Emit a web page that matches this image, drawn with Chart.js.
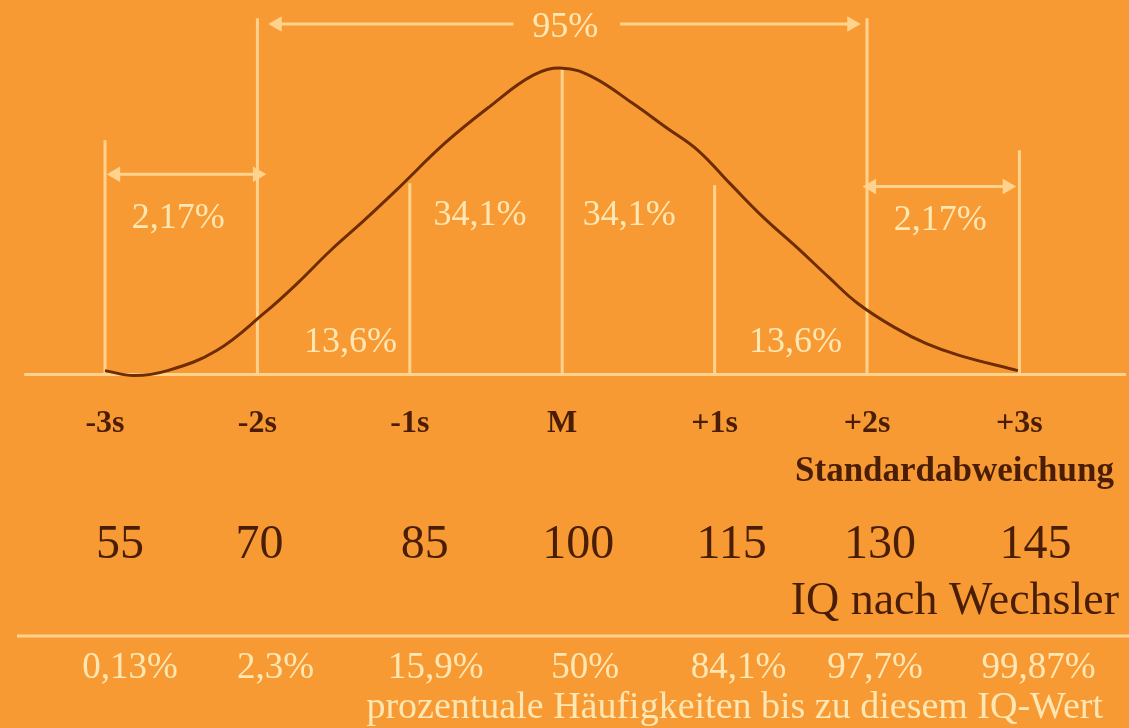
<!DOCTYPE html>
<html>
<head>
<meta charset="utf-8">
<script src="https://cdn.jsdelivr.net/npm/chart.js@4.4.1/dist/chart.umd.min.js"></script>
<style>
  html, body { margin: 0; padding: 0; background: #f89a34; }
  #wrap { width: 1129px; height: 728px; }
</style>
</head>
<body>
<div id="wrap"><canvas id="iq" width="1129" height="728"></canvas></div>
<script>
// bell curve: x in standard deviations, height with peak = 100
const curveX = [-3.0, -2.81, -2.59, -2.27, -1.95, -1.74, -1.52, -1.30, -1.09, -0.77, -0.48, -0.19, 0,
                0.2, 0.46, 0.68, 0.89, 1.10, 1.32, 1.54, 1.75, 1.94, 2.18, 2.39, 2.61, 2.99];
const curveY = [1.3, -0.3, 1.3, 7.8, 20.3, 29.7, 40.5, 50.3, 60.1, 75.5, 87.3, 97.7, 100,
                97.1, 88.6, 80.7, 73.2, 62.4, 51.3, 41.5, 31.7, 23.2, 15.4, 10.1, 6.2, 1.3];

// sigma marks and the rows under them
const sigmaTicks = [-3, -2, -1, 0, 1, 2, 3];
const sigmaLabels = ['-3s', '-2s', '-1s', 'M', '+1s', '+2s', '+3s'];
const iqLabels = ['55', '70', '85', '100', '115', '130', '145'];
const cumLabels = ['0,13%', '2,3%', '15,9%', '50%', '84,1%', '97,7%', '99,87%'];
const markerTops = [76.5, 116.3, 62.4, 100, 61.8, 116.3, 73.2];

// shares between the marks
const areaLabels = ['2,17%', '13,6%', '34,1%', '34,1%', '13,6%', '2,17%'];
const areaAt = [[-2.52, 47.7], [-1.39, 7.5], [-0.54, 48.7], [0.44, 48.7], [1.53, 7.5], [2.48, 47.1]];

const CREAM = '#ffd38e';
const TEXT_LIGHT = '#ffe7b4';
const BROWN = '#4a1e06';
const SERIF = '"Liberation Serif", "Times New Roman", serif';

// vertical lines as one dataset broken by gaps
const markerPts = [];
sigmaTicks.forEach((s, i) => {
  markerPts.push({ x: s, y: 0 }, { x: s, y: markerTops[i] }, { x: s, y: null });
});

function bracket(pts, rad, rot) {
  return {
    data: pts, borderColor: CREAM, borderWidth: 3, spanGaps: false,
    pointStyle: 'triangle', pointRadius: rad, pointRotation: rot,
    pointBackgroundColor: CREAM, pointBorderColor: CREAM, clip: false, order: 2
  };
}

const textPlugin = {
  id: 'texts',
  afterDraw(chart) {
    const { ctx, scales: { x, y } } = chart;
    ctx.save();
    ctx.textBaseline = 'alphabetic';

    // labels inside the curve
    ctx.fillStyle = TEXT_LIGHT;
    ctx.textAlign = 'center';
    ctx.font = '36px ' + SERIF;
    areaLabels.forEach((t, i) => {
      ctx.fillText(t, x.getPixelForValue(areaAt[i][0]), y.getPixelForValue(areaAt[i][1]));
    });
    ctx.fillText('95%', x.getPixelForValue(0.02), y.getPixelForValue(110.1));

    // IQ row
    const nudge2 = [15, 2, 15, 16, 17, 13, 16];
    ctx.fillStyle = BROWN;
    ctx.font = '48px ' + SERIF;
    iqLabels.forEach((t, i) => ctx.fillText(t, x.getPixelForValue(sigmaTicks[i]) + nudge2[i], 558));

    ctx.textAlign = 'right';
    ctx.font = 'bold 35px ' + SERIF;
    ctx.fillText('Standardabweichung', 1114, 481);
    ctx.font = '46px ' + SERIF;
    ctx.fillText('IQ nach Wechsler', 1119, 614);

    // separator
    ctx.strokeStyle = CREAM;
    ctx.lineWidth = 3;
    ctx.beginPath();
    ctx.moveTo(17, 636);
    ctx.lineTo(1129, 636);
    ctx.stroke();

    // cumulative percentages
    const nudge3 = [25, 18, 26, 23, 24, 8, 19];
    ctx.fillStyle = TEXT_LIGHT;
    ctx.textAlign = 'center';
    ctx.font = '37px ' + SERIF;
    cumLabels.forEach((t, i) => ctx.fillText(t, x.getPixelForValue(sigmaTicks[i]) + nudge3[i], 678));

    ctx.textAlign = 'right';
    ctx.font = '38px ' + SERIF;
    ctx.fillText('prozentuale Häufigkeiten bis zu diesem IQ-Wert', 1103, 718);
    ctx.restore();
  }
};

new Chart(document.getElementById('iq'), {
  type: 'line',
  data: {
    datasets: [
      {
        data: curveX.map((v, i) => ({ x: v, y: curveY[i] })),
        borderColor: '#6e2c00', borderWidth: 3, pointRadius: 0,
        tension: 0.4, clip: false, order: 0
      },
      {
        data: [{ x: -3.53, y: 0 }, { x: 3.7, y: 0 }],
        borderColor: CREAM, borderWidth: 3, pointRadius: 0, clip: false, order: 3
      },
      {
        data: markerPts, borderColor: CREAM, borderWidth: 3, pointRadius: 0,
        spanGaps: false, clip: false, order: 1
      },
      bracket([{ x: -1.87, y: 114.4 }, { x: -0.32, y: 114.4 }, { x: 0, y: null },
               { x: 0.38, y: 114.4 }, { x: 1.90, y: 114.4 }],
               [6, 0, 0, 0, 6], [270, 0, 0, 0, 90]),
      bracket([{ x: -2.93, y: 65.4 }, { x: -2.0, y: 65.4 }], [6, 6], [270, 90]),
      bracket([{ x: 2.03, y: 61.4 }, { x: 2.92, y: 61.4 }], [6, 6], [270, 90])
    ]
  },
  options: {
    responsive: false,
    animation: false,
    layout: { padding: { left: 0, right: 0, top: 0, bottom: 255 } },
    plugins: { legend: { display: false }, tooltip: { enabled: false } },
    scales: {
      x: {
        type: 'linear', min: -3.63, max: 3.66,
        grid: { display: false, drawTicks: false },
        border: { display: false },
        afterBuildTicks: s => { s.ticks = sigmaTicks.map(v => ({ value: v })); },
        ticks: {
          padding: 30, maxRotation: 0, autoSkip: false, color: BROWN,
          font: { family: SERIF, size: 32, weight: 'bold' },
          callback: (v, i) => sigmaLabels[i]
        }
      },
      y: { display: false, min: 0, max: 119.3 }
    }
  },
  plugins: [textPlugin]
});
</script>
</body>
</html>
